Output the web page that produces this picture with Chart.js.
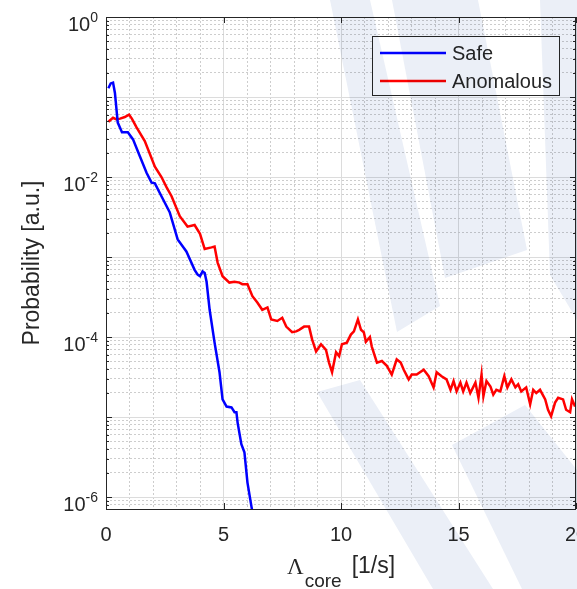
<!DOCTYPE html>
<html>
<head>
<meta charset="utf-8">
<script src="https://cdn.jsdelivr.net/npm/chart.js@4.4.0/dist/chart.umd.min.js"></script>
<style>
  html, body { margin: 0; padding: 0; background: #fff; overflow: hidden; }
  #wrap { width: 620px; height: 589px; }
</style>
</head>
<body>
<div id="wrap"><canvas id="chart" width="620" height="589"></canvas></div>
<script>
// values (y given as log10 of probability)
const seriesNames = ['Safe', 'Anomalous'];

const safeX = [0.1, 0.2, 0.3, 0.38, 0.5, 0.68, 0.93, 1.15, 1.44, 1.73, 1.94, 2.08, 2.36, 2.71, 3.05,
  3.42, 3.77, 3.9, 4.0, 4.11, 4.2, 4.28, 4.41, 4.62, 4.83, 4.96, 5.13, 5.34, 5.47, 5.55, 5.6, 5.76,
  5.89, 6.02, 6.19, 6.3];
const safeLog = [-0.89, -0.83, -0.82, -0.95, -1.32, -1.44, -1.44, -1.53, -1.74, -1.95, -2.07, -2.08,
  -2.24, -2.44, -2.78, -2.93, -3.16, -3.22, -3.24, -3.18, -3.2, -3.31, -3.66, -4.07, -4.44, -4.78,
  -4.87, -4.88, -4.94, -4.94, -5.07, -5.34, -5.44, -5.82, -6.12, -6.3];

const anomX = [0.1, 0.3, 0.45, 0.6, 0.8, 0.98, 1.1, 1.3, 1.65, 2.08, 2.36, 2.58, 2.79, 3.14, 3.47,
  3.77, 4.0, 4.2, 4.49, 4.62, 4.75, 4.96, 5.25, 5.47, 5.68, 5.8, 6.02, 6.23, 6.44, 6.65, 6.87, 7.03,
  7.29, 7.5, 7.67, 7.92, 8.09, 8.22, 8.43, 8.64, 8.77, 8.94, 9.15, 9.36, 9.49, 9.62, 9.79, 9.92,
  10.04, 10.25, 10.42, 10.55, 10.72, 10.85, 10.97, 11.06, 11.23, 11.31, 11.53, 11.74, 11.95, 12.16,
  12.37, 12.54, 12.67, 12.88, 13.01, 13.22, 13.52, 13.73, 13.94, 14.07, 14.28, 14.49, 14.66, 14.79,
  14.92, 15.08, 15.2, 15.34, 15.5, 15.72, 15.85, 15.98, 16.06, 16.19, 16.36, 16.48, 16.61, 16.78,
  16.95, 17.08, 17.25, 17.42, 17.54, 17.67, 17.88, 18.05, 18.18, 18.31, 18.47, 18.69, 18.81, 18.94,
  19.11, 19.24, 19.45, 19.58, 19.75, 19.83, 19.96];
const anomLog = [-1.31, -1.26, -1.28, -1.27, -1.25, -1.22, -1.27, -1.38, -1.55, -1.87, -2.0, -2.13,
  -2.24, -2.49, -2.62, -2.6, -2.71, -2.9, -2.88, -2.87, -3.07, -3.24, -3.32, -3.31, -3.32, -3.34,
  -3.34, -3.49, -3.57, -3.66, -3.63, -3.78, -3.8, -3.76, -3.87, -3.94, -3.93, -3.91, -3.87, -3.87,
  -4.03, -4.18, -4.09, -4.16, -4.32, -4.44, -4.19, -4.24, -4.09, -4.07, -3.97, -3.93, -3.78, -3.91,
  -3.94, -4.06, -4.0, -4.12, -4.32, -4.3, -4.36, -4.47, -4.28, -4.32, -4.41, -4.53, -4.47, -4.47,
  -4.41, -4.49, -4.63, -4.44, -4.49, -4.53, -4.66, -4.55, -4.68, -4.57, -4.68, -4.57, -4.7, -4.57,
  -4.76, -4.47, -4.74, -4.55, -4.62, -4.72, -4.66, -4.68, -4.49, -4.63, -4.53, -4.63, -4.59, -4.68,
  -4.63, -4.84, -4.66, -4.7, -4.66, -4.78, -4.91, -4.99, -4.82, -4.76, -4.78, -4.91, -4.94, -4.78,
  -4.87];

const xTickLabels = ['0', '5', '10', '15', '20'];
const yTickExps = [0, -2, -4, -6];

const AXIS = '#262626';
const SANS = "'Liberation Sans', Arial, sans-serif";
const GRID_MAJOR = '#dcdcdc';
const GRID_MINOR = '#cdcdcd';

function isDecade(v) {
  const l = Math.log10(v);
  return Math.abs(l - Math.round(l)) < 1e-6;
}

// pale logo overlay on the page: [start, control, end] edges per band
const watermark = [
  [[330, 0], [370, 0], [440, 306], [397, 332]],
  [[392, 0], [478, 0], [527, 250], [445, 278]],
  [[540, 0], [577, 0], [577, 320], [550, 275]],
  [[317, 392], [360, 380], [493, 589], [433, 589]],
  [[452, 445], [525, 405], [577, 470], [577, 589], [522, 589]]
];

const decorations = {
  id: 'decorations',
  afterDraw(chart) {
    const ctx = chart.ctx;
    const a = chart.chartArea;
    const xs = chart.scales.x;
    const ys = chart.scales.y;
    ctx.save();

    // axes box and inward ticks
    ctx.strokeStyle = AXIS;
    ctx.lineWidth = 1;
    ctx.strokeRect(Math.round(a.left) + 0.5, Math.round(a.top) + 0.5,
      Math.round(a.right - a.left) - 1, Math.round(a.bottom - a.top));
    ctx.beginPath();
    ys.ticks.forEach(t => {
      const y = Math.round(ys.getPixelForValue(t.value)) + 0.5;
      const len = isDecade(t.value) ? 6 : 3;
      ctx.moveTo(a.left, y); ctx.lineTo(a.left + len, y);
      ctx.moveTo(a.right, y); ctx.lineTo(a.right - len, y);
    });
    xs.ticks.forEach(t => {
      if (t.value % 5 !== 0) return;
      const x = Math.round(xs.getPixelForValue(t.value)) + 0.5;
      ctx.moveTo(x, a.bottom); ctx.lineTo(x, a.bottom - 6);
      ctx.moveTo(x, a.top); ctx.lineTo(x, a.top + 6);
    });
    ctx.stroke();

    // y tick labels 10^n
    ctx.fillStyle = AXIS;
    ctx.textBaseline = 'alphabetic';
    ctx.textAlign = 'left';
    yTickExps.forEach(e => {
      const y = ys.getPixelForValue(Math.pow(10, e));
      const expStr = String(e);
      ctx.font = '14px ' + SANS;
      const ew = ctx.measureText(expStr).width;
      ctx.font = '20px ' + SANS;
      const bw = ctx.measureText('10').width;
      const right = 98;
      ctx.fillText('10', right - ew - bw, y + 14);
      ctx.font = '14px ' + SANS;
      ctx.fillText(expStr, right - ew, y + 5);
    });

    // y axis title
    ctx.save();
    ctx.translate(33, (a.top + a.bottom) / 2);
    ctx.rotate(-Math.PI / 2);
    ctx.textAlign = 'center';
    ctx.textBaseline = 'middle';
    ctx.font = '23px ' + SANS;
    ctx.fillText('Probability [a.u.]', 0, 0);
    ctx.restore();

    // x axis title: Lambda_core [1/s]
    const cx = (a.left + a.right) / 2;
    let x0 = cx - 54;
    ctx.textAlign = 'left';
    ctx.font = "23px 'Liberation Serif', 'Times New Roman', serif";
    ctx.fillText('\u039B', x0, 574);
    x0 += ctx.measureText('\u039B').width + 1;
    ctx.font = '19px ' + SANS;
    ctx.fillText('core', x0, 587);
    x0 += ctx.measureText('core').width + 10;
    ctx.font = '23px ' + SANS;
    ctx.fillText('[1/s]', x0, 573);

    // legend
    const lx = 372.5, ly = 36.5, lw = 187, lh = 59;
    ctx.fillStyle = '#fff';
    ctx.fillRect(lx, ly, lw, lh);
    ctx.strokeStyle = AXIS;
    ctx.lineWidth = 1;
    ctx.strokeRect(lx, ly, lw, lh);
    chart.data.datasets.forEach((ds, i) => {
      const y = 53 + i * 28;
      ctx.strokeStyle = ds.borderColor;
      ctx.lineWidth = 2.5;
      ctx.beginPath();
      ctx.moveTo(380, y); ctx.lineTo(446, y);
      ctx.stroke();
      ctx.fillStyle = AXIS;
      ctx.font = '20px ' + SANS;
      ctx.textBaseline = 'middle';
      ctx.fillText(ds.label, 452, y + 1);
    });

    // watermark
    ctx.globalCompositeOperation = 'multiply';
    ctx.fillStyle = 'rgb(235,239,247)';
    watermark.forEach(poly => {
      ctx.beginPath();
      poly.forEach((p, i) => i ? ctx.lineTo(p[0], p[1]) : ctx.moveTo(p[0], p[1]));
      ctx.closePath();
      ctx.fill();
    });
    ctx.restore();
  }
};

new Chart(document.getElementById('chart'), {
  type: 'line',
  data: {
    datasets: [
      {
        label: seriesNames[0],
        data: safeX.map((x, i) => ({ x: x, y: Math.pow(10, safeLog[i]) })),
        borderColor: '#0000ff',
        borderWidth: 2.5,
        pointRadius: 0,
        fill: false
      },
      {
        label: seriesNames[1],
        data: anomX.map((x, i) => ({ x: x, y: Math.pow(10, anomLog[i]) })),
        borderColor: '#ff0000',
        borderWidth: 2.5,
        pointRadius: 0,
        fill: false
      }
    ]
  },
  options: {
    responsive: false,
    animation: false,
    layout: { padding: { left: 0, top: 17, right: 44, bottom: 0 } },
    plugins: { legend: { display: false }, tooltip: { enabled: false } },
    scales: {
      x: {
        type: 'linear',
        min: 0,
        max: 20,
        afterBuildTicks: s => {
          const t = [];
          for (let v = 0; v <= 20; v++) t.push({ value: v });
          s.ticks = t;
        },
        ticks: {
          autoSkip: false,
          maxRotation: 0,
          color: AXIS,
          padding: 14,
          font: { family: SANS, size: 20 },
          callback: v => (v % 5 === 0 ? xTickLabels[v / 5] : '')
        },
        grid: {
          drawTicks: false,
          lineWidth: 1,
          color: c => (c.tick && c.tick.value % 5 === 0 ? GRID_MAJOR : GRID_MINOR)
        },
        border: {
          display: false,
          dash: c => (c.tick && c.tick.value % 5 !== 0 ? [2, 2] : [])
        },
        afterFit: s => { s.height = 80; }
      },
      y: {
        type: 'logarithmic',
        min: Math.pow(10, -6.15),
        max: 1,
        afterBuildTicks: s => {
          const t = [];
          for (let e = -7; e <= 0; e++) {
            for (let m = 1; m <= 9; m++) {
              const v = m * Math.pow(10, e);
              if (v >= s.min && v <= s.max * 1.0001) t.push({ value: v });
            }
          }
          s.ticks = t;
        },
        ticks: { display: false },
        grid: {
          drawTicks: false,
          lineWidth: 1,
          color: c => (c.tick && isDecade(c.tick.value) ? GRID_MAJOR : GRID_MINOR)
        },
        border: {
          display: false,
          dash: c => (c.tick && !isDecade(c.tick.value) ? [2, 2] : [])
        },
        afterFit: s => { s.height = s.height; s.width = 106; }
      }
    }
  },
  plugins: [decorations]
});
</script>
</body>
</html>
